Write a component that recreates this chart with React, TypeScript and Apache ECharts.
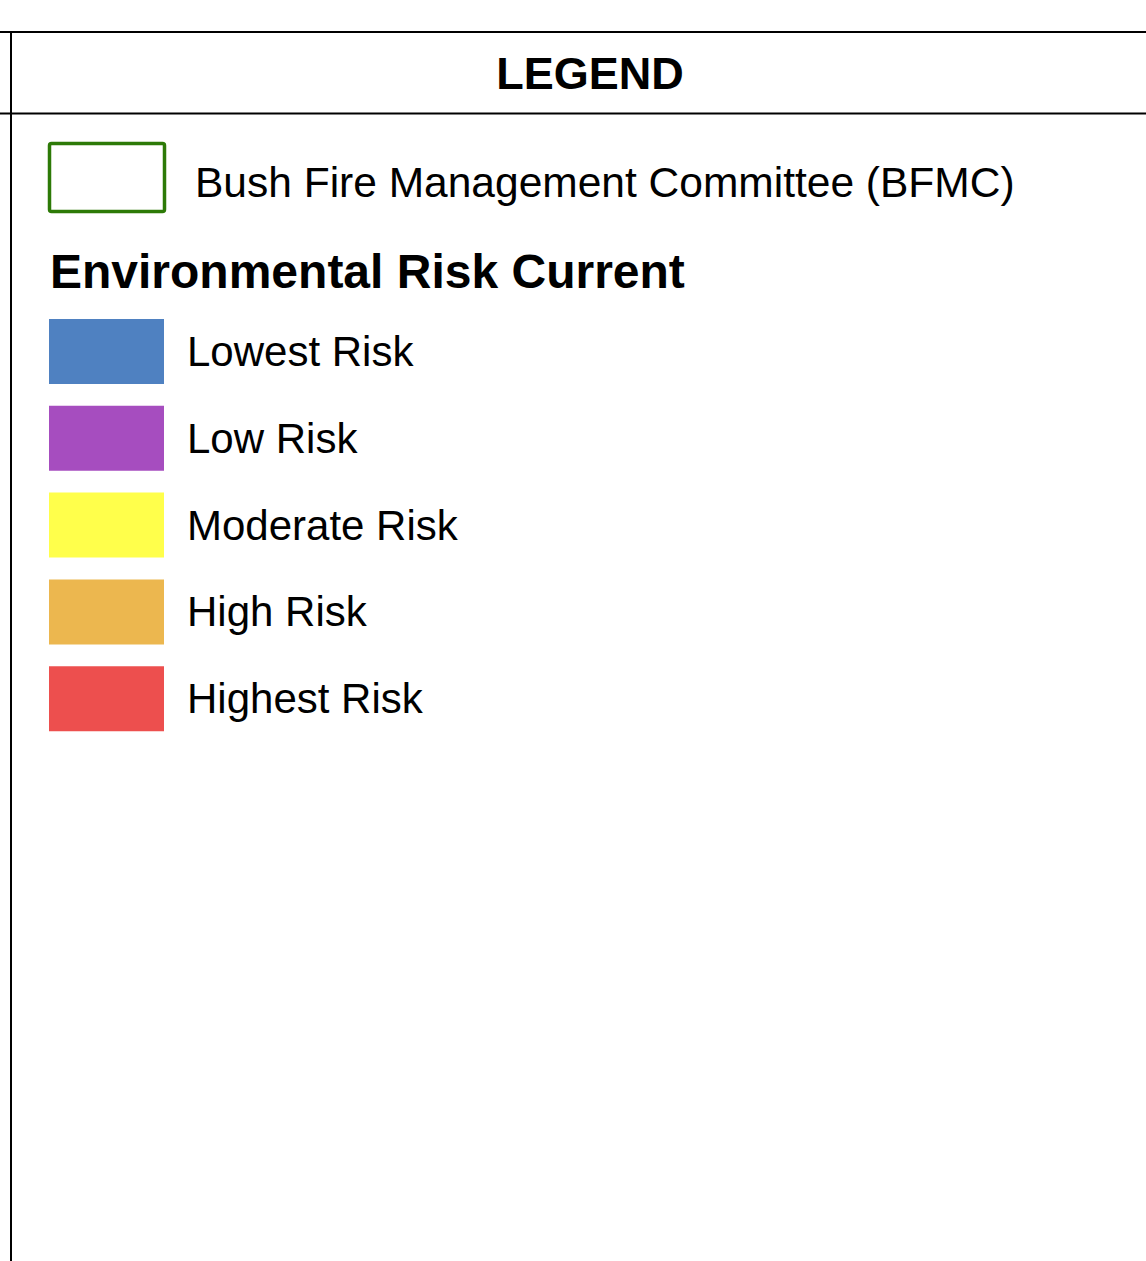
import React, { useEffect, useRef } from "react";
import * as echarts from "echarts";

const title = "LEGEND";
const boundaryLabel = "Bush Fire Management Committee (BFMC)";
const boundaryColor = "#2d7a07";
const sectionTitle = "Environmental Risk Current";
const riskLabels = ["Lowest Risk", "Low Risk", "Moderate Risk", "High Risk", "Highest Risk"];
const riskColors = ["#4f81c1", "#a64dbf", "#ffff4b", "#ecb74f", "#ed4f4e"];

const FONT = "'Liberation Sans', Arial, Helvetica, sans-serif";

export default function App() {
  const ref = useRef<HTMLDivElement>(null);
  useEffect(() => {
    if (!ref.current) return;
    const chart = echarts.init(ref.current, null, { renderer: "svg" });
    const swTop = 319;
    const swStep = 86.8;
    const swH = 65;
    const graphic: any[] = [
      { type: "line", shape: { x1: 0, y1: 32, x2: 1146, y2: 32 }, style: { stroke: "#000", lineWidth: 2 } },
      { type: "line", shape: { x1: 0, y1: 113.5, x2: 1146, y2: 113.5 }, style: { stroke: "#000", lineWidth: 2 } },
      { type: "line", shape: { x1: 11, y1: 31, x2: 11, y2: 1261 }, style: { stroke: "#000", lineWidth: 2 } },
      {
        type: "text", x: 590, y: 73,
        style: { text: title, font: `bold 45px ${FONT}`, fill: "#000", textAlign: "center", textVerticalAlign: "middle" },
      },
      {
        type: "rect", shape: { x: 49.5, y: 143.5, width: 115, height: 68, r: 2 },
        style: { fill: "none", stroke: boundaryColor, lineWidth: 3.5 },
      },
      {
        type: "text", x: 195, y: 182,
        style: { text: boundaryLabel, font: `42.5px ${FONT}`, fill: "#000", textAlign: "left", textVerticalAlign: "middle" },
      },
      {
        type: "text", x: 50, y: 271,
        style: { text: sectionTitle, font: `bold 48px ${FONT}`, fill: "#000", textAlign: "left", textVerticalAlign: "middle" },
      },
    ];
    riskLabels.forEach((label, i) => {
      const y = swTop + i * swStep;
      graphic.push({
        type: "rect", shape: { x: 49, y, width: 115, height: swH },
        style: { fill: riskColors[i] },
      });
      graphic.push({
        type: "text", x: 187, y: y + swH / 2,
        style: { text: label, font: `42px ${FONT}`, fill: "#000", textAlign: "left", textVerticalAlign: "middle" },
      });
    });
    chart.setOption({ animation: false, backgroundColor: "#fff", graphic });
    return () => chart.dispose();
  }, []);
  return (
    <div
      ref={ref}
      style={{ position: "fixed", left: 0, top: 0, width: 1146, height: 1261 }}
    />
  );
}
